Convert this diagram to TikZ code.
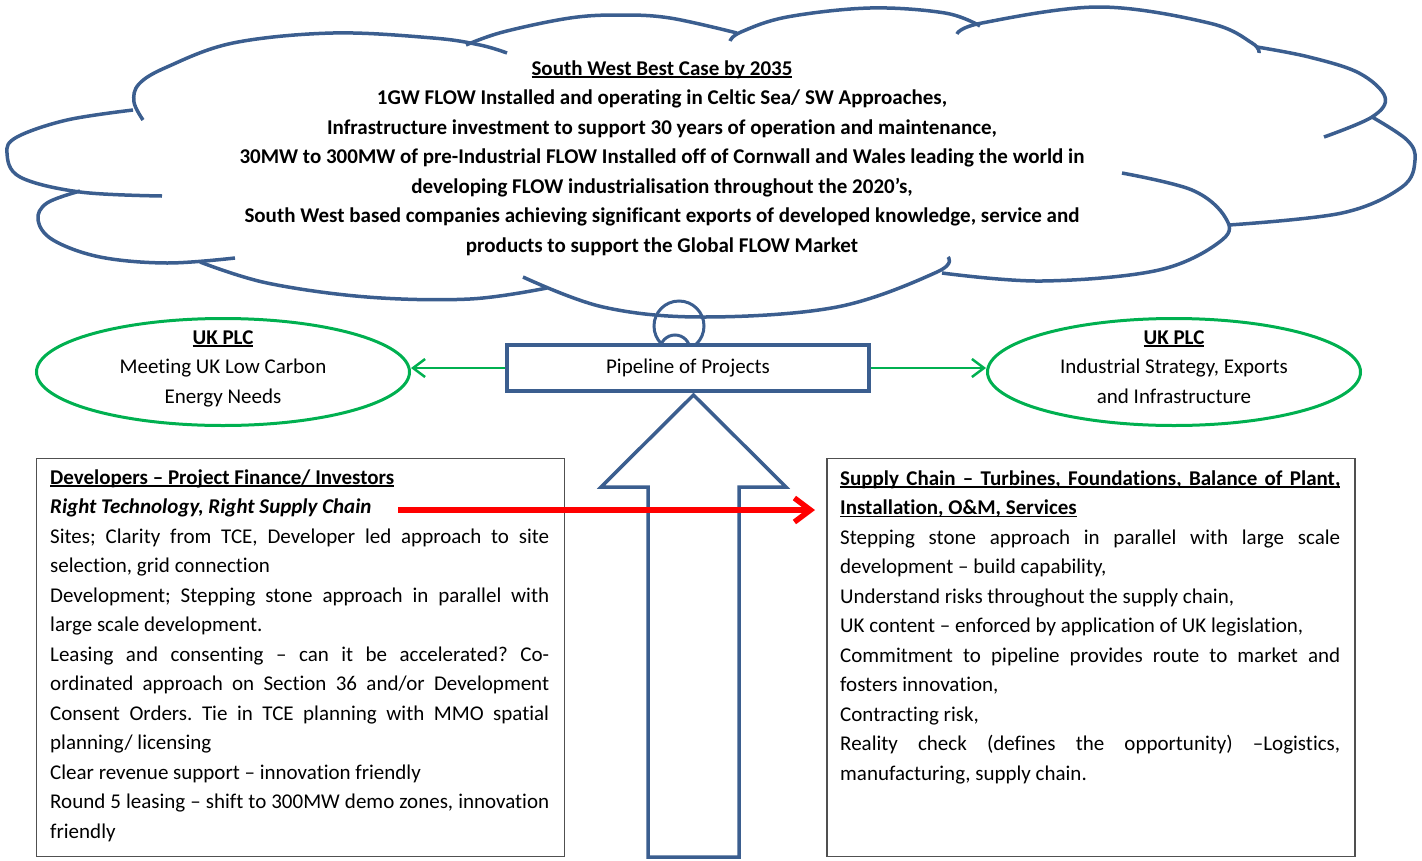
\documentclass[tikz,border=0pt]{standalone}
\usepackage{fontspec}
\setmainfont{Carlito}[Ligatures={NoCommon}]
\usetikzlibrary{arrows.meta,shapes.geometric}
\definecolor{cblue}{RGB}{59,94,143}
\definecolor{cgreen}{RGB}{0,176,80}
\definecolor{cred}{RGB}{255,0,0}
\definecolor{cgray}{RGB}{80,80,80}
\frenchspacing
\newsavebox\ulbox
\newcommand{\myul}[1]{\sbox\ulbox{#1}\rlap{\rule[-2.6pt]{\wd\ulbox}{1.5pt}}\usebox\ulbox}
\newcommand{\jd}[1]{\hbox to 499pt{\spaceskip=0.226em plus 1fil minus 0.12em\relax #1}}
\newcommand{\js}[1]{\hbox to 500pt{\spaceskip=0.226em plus 1fil minus 0.12em\relax #1}}
\newcommand{\fl}{\rule{0pt}{20pt}}
\begin{document}
\begin{tikzpicture}[x=1pt,y=-1pt,
  cloudline/.style={draw=cblue, line width=3.5pt, line cap=butt},
  body/.style={font=\fontsize{21}{29.5}\selectfont, inner sep=0pt, text=black},
  boxbody/.style={font=\fontsize{21}{29.5}\selectfont, inner sep=0pt, text=black},
  goal/.style={draw=cgreen, line width=3pt, ellipse, minimum width=373pt, minimum height=107pt, inner sep=0pt},
  garrow/.style={draw=cgreen, line width=2.5pt, -{Straight Barb[length=12pt,width=18pt]}},
  redarrow/.style={draw=cred, line width=5.5pt, -{Straight Barb[length=16pt,width=24pt]}},
  textbox/.style={draw=cgray, line width=1.5pt, fill=white},
  bigarrow/.style={draw=cblue, line width=3.5pt, line join=miter, fill=white}
]
\useasboundingbox (0,0) rectangle (1422,860);

% ---------- cloud ----------
\draw[cloudline] plot[smooth, tension=0.6] coordinates {(143,120) (134,102) (139,84) (167,67) (233,43) (333,33) (433,38) (480,45) (507,53)};
\draw[cloudline] plot[smooth, tension=0.6] coordinates {(466,45) (503,32) (570,18) (620,15) (670,18) (737,33)};
\draw[cloudline] plot[smooth, tension=0.6] coordinates {(730,41) (741,32) (787,17) (870,8) (945,13) (980,26)};
\draw[cloudline] plot[smooth, tension=0.6] coordinates {(957,34) (982,23) (1099,7) (1209,23) (1252,43) (1259,53)};
\draw[cloudline] plot[smooth, tension=0.6] coordinates {(1257,47) (1309,57) (1359,73) (1385,97) (1372,117) (1324,137)};
\draw[cloudline] plot[smooth, tension=0.6] coordinates {(1372,117) (1407,140) (1415,160) (1402,187) (1342,213) (1229,225)};
\draw[cloudline] plot[smooth, tension=0.6] coordinates {(1122,173) (1192,190) (1225,217) (1222,240) (1159,270) (1042,281) (942,273)};
\draw[cloudline] plot[smooth, tension=0.6] coordinates {(523,277) (603,307) (703,317) (837,307) (937,272) (948,257)};
\draw[cloudline] plot[smooth, tension=0.6] coordinates {(200,262) (267,283) (367,297) (470,299) (547,288)};
\draw[cloudline] plot[smooth, tension=0.6] coordinates {(80,191) (47,203) (38,220) (53,240) (100,257) (167,263) (235,258)};
\draw[cloudline] plot[smooth, tension=0.6] coordinates {(133,110) (67,120) (17,137) (7,153) (20,177) (80,192) (162,196)};

\node[body, font=\fontsize{21}{29.5}\selectfont\bfseries, align=center, anchor=north] (vision) at (662,55) {\fl\myul{South West Best Case by 2035}\\
1GW FLOW Installed and operating in Celtic Sea/ SW Approaches,\\
Infrastructure investment to support 30 years of operation and maintenance,\\
30MW to 300MW of pre-Industrial FLOW Installed off of Cornwall and Wales leading the world in\\
developing FLOW industrialisation throughout the 2020’s,\\
South West based companies achieving significant exports of developed knowledge, service and\\
products to support the Global FLOW Market};

% thought bubbles
\draw[cloudline, line width=3pt] (679,326) circle[radius=25];
\draw[cloudline, line width=3pt] (675,350) circle[radius=15];

% big upward arrow
\draw[bigarrow] (648,857) -- (648,487) -- (601,487) -- (693.5,395) -- (786,487) -- (739,487) -- (739,857) -- cycle;

% pipeline box
\node[body, draw=cblue, line width=4pt, fill=white, minimum width=362pt, minimum height=46pt] (pipe) at (688,368) {Pipeline of Projects};

% goals
\node[goal] (ukl) at (223,372) {};
\node[goal] (ukr) at (1174,372) {};
\node[body, align=center, anchor=north] (ukltext) at (223,324) {\fl\myul{\textbf{UK PLC}}\\Meeting UK Low Carbon\\Energy Needs};
\node[body, align=center, anchor=north] (ukrtext) at (1174,324) {\fl\myul{\textbf{UK PLC}}\\Industrial Strategy, Exports\\and Infrastructure};
\draw[garrow] (pipe.west) -- (pipe.west -| ukl.east);
\draw[garrow] (pipe.east) -- (pipe.east -| ukr.west);

% text boxes
\node[textbox, anchor=north west, minimum width=528pt, minimum height=398pt] (devbox) at (35.5,457.5) {};
\node[textbox, anchor=north west, minimum width=528pt, minimum height=398pt] (supbox) at (826,457.5) {};

\node[boxbody, anchor=north west, align=left] (devtext) at (50,464) {\fl\myul{\textbf{Developers – Project Finance/ Investors}}\\
\textbf{\textit{Right Technology, Right Supply Chain}}\\
\jd{Sites; Clarity from TCE, Developer led approach to site}\\
selection, grid connection\\
\jd{Development; Stepping stone approach in parallel with}\\
large scale development.\\
\jd{Leasing and consenting – can it be accelerated? Co-}\\
\jd{ordinated approach on Section 36 and/or Development}\\
\jd{Consent Orders. Tie in TCE planning with MMO spatial}\\
planning/ licensing\\
Clear revenue support – innovation friendly\\
\jd{Round 5 leasing – shift to 300MW demo zones, innovation}\\
friendly};

\node[boxbody, anchor=north west, align=left] (suptext) at (840,465) {\fl\myul{\bfseries\js{Supply Chain – Turbines, Foundations, Balance of Plant,}}\\
\myul{\textbf{Installation, O\&M, Services}}\\
\js{Stepping stone approach in parallel with large scale}\\
development – build capability,\\
Understand risks throughout the supply chain,\\
UK content – enforced by application of UK legislation,\\
\js{Commitment to pipeline provides route to market and}\\
fosters innovation,\\
Contracting risk,\\
\js{Reality check (defines the opportunity) –Logistics,}\\
manufacturing, supply chain.};

% red arrow
\coordinate (rs) at (398,510);
\coordinate (re) at (815,510);
\draw[redarrow] (rs) -- (re);
\end{tikzpicture}
\end{document}
